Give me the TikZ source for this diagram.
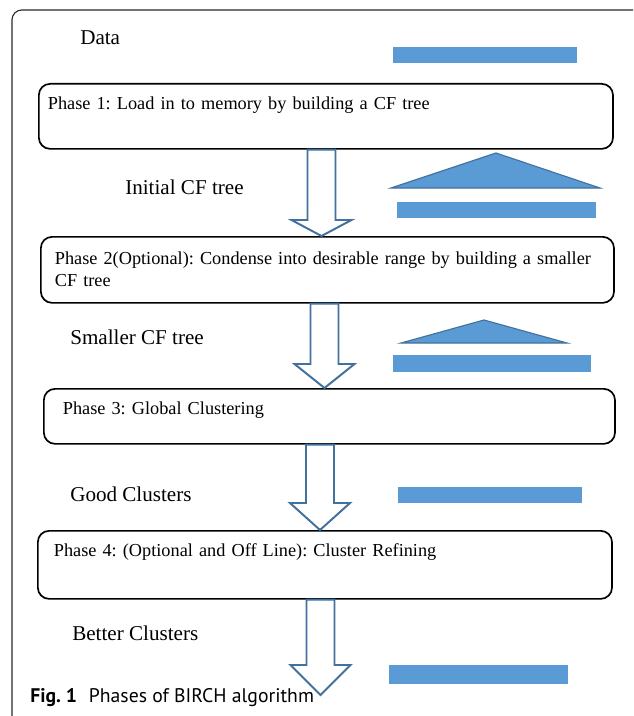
\documentclass[tikz,border=0pt]{standalone}
\usepackage{fontspec}
\setmainfont{Liberation Serif}
\newfontfamily\captionfont{PT Sans}
\usepackage{tikz}
\usetikzlibrary{calc}
\usepackage{xcolor}
\definecolor{birchBlue}{RGB}{91,155,213}
\definecolor{birchDark}{RGB}{65,113,156}
\definecolor{frameGray}{RGB}{40,40,40}
\frenchspacing

% hollow block arrow: x reference, start node, end point, head length
\newcommand{\hollowarrow}[4]{%
  \draw[hollow] ($(#2.south -| #1)+(-14,0)$) -- ($(#3 -| #1)+(-14,-#4)$) -- ($(#3 -| #1)+(-30,-#4)$) -- (#3 -| #1)
    -- ($(#3 -| #1)+(30,-#4)$) -- ($(#3 -| #1)+(14,-#4)$) -- ($(#2.south -| #1)+(14,0)$) -- cycle;}

\begin{document}
\begin{tikzpicture}[
    x=0.025cm, y=-0.025cm,
    phase/.style={rectangle, draw=black, line width=1.2pt, rounded corners=8pt, anchor=north west, align=left, inner xsep=0.4cm, inner ysep=0pt, font=\fontsize{13}{15.6}\selectfont},
    stage/.style={anchor=west, inner sep=0pt, font=\fontsize{15}{18}\selectfont},
    databar/.style={fill=birchBlue},
    treeshape/.style={fill=birchBlue, draw=birchDark, line width=0.8pt, line join=miter},
    hollow/.style={draw=birchDark, fill=white, line width=1.4pt, line join=miter}
]
\useasboundingbox (0,0) rectangle (633,716);

% Outer frame
\draw[frameGray, line width=0.8pt, rounded corners=7pt] (12,716) -- (12,10) -- (633,10);

% Phases
\node[phase, inner xsep=0.225cm, text width=13.9cm, text height=0.65cm, text depth=0.975cm] (phase1) at (38,83) {Phase 1: Load in to memory by building a CF tree};
\node[phase, inner xsep=0.35cm, text width=13.625cm, text height=0.7cm, text depth=0.95cm] (phase2) at (40,236) {Phase 2(Optional): Condense into desirable range by building a smaller\\CF tree};
\node[phase, inner xsep=0.475cm, text width=13.325cm, text height=0.65cm, text depth=0.725cm] (phase3) at (43,388) {Phase 3: Global Clustering};
\node[phase, text width=13.55cm, text height=0.65cm, text depth=1.05cm] (phase4) at (37,530) {Phase 4: (Optional and Off Line): Cluster Refining};

% Stage labels
\node[stage] (data)    at (80,38)  {Data};
\node[stage] (initial) at (125,187) {Initial CF tree};
\node[stage] (smaller) at (70,337) {Smaller CF tree};
\node[stage] (good)    at (70,494) {Good Clusters};
\node[stage] (better)  at (72,633) {Better Clusters};

% Data bars and trees
\fill[databar] (393,47) rectangle (577,63);
\draw[treeshape] (391,188) -- (496,153) -- (600,188) -- cycle;
\fill[databar] (397,202) rectangle (596,218);
\draw[treeshape] (401,343) -- (484,320) -- (567,343) -- cycle;
\fill[databar] (393,355) rectangle (591,372);
\fill[databar] (398,487) rectangle (582,503);
\fill[databar] (389,665) rectangle (568,684);

% Arrows between phases
\coordinate (ax1) at (321.5,0);
\coordinate (ax2) at (324.5,0);
\coordinate (ax3) at (320,0);
\coordinate (ax4) at (320.5,0);
\coordinate (end4) at (320,695);
\hollowarrow{ax1}{phase1}{phase2.north}{16}
\hollowarrow{ax2}{phase2}{phase3.north}{24}
\hollowarrow{ax3}{phase3}{phase4.north}{27}
\hollowarrow{ax4}{phase4}{end4}{30}

% Caption
\node[anchor=west, inner sep=0pt, font=\captionfont\fontsize{14}{16}\selectfont] (caption) at (30,698) {\textbf{Fig. 1}\hspace{0.6em}Phases of BIRCH algorithm};

\end{tikzpicture}
\end{document}
